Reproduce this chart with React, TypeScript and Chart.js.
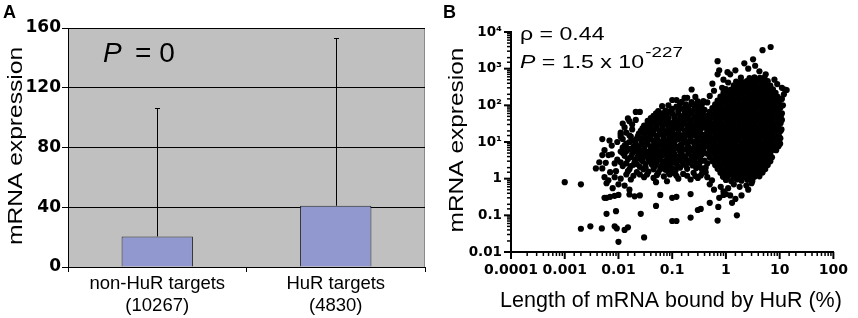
import React, { useEffect, useRef } from "react";
import { Chart, registerables } from "chart.js";
Chart.register(...registerables);

// ---------- Panel A data ----------
const barCategories: string[][] = [["non-HuR targets", "(10267)"], ["HuR targets", "(4830)"]];
const barMeans: number[] = [20.5, 41];
const barErrorTops: number[] = [106.5, 153];
const barYTicks: number[] = [0, 40, 80, 120, 160];

// ---------- Panel B axis labels ----------
const xDecades: number[] = [-4, -3, -2, -1, 0, 1, 2];
const xDecadeLabels: string[] = ["0.0001", "0.001", "0.01", "0.1", "1", "10", "100"];
const yDecades: number[] = [-2, -1, 0, 1, 2, 3, 4];
const yDecadeLabels: string[] = ["0.01", "0.1", "1", "10¹", "10²", "10³", "10⁴"];

// ---------- Panel B scatter data: [length bound (%), mRNA expression] ----------
const coreCloud: [number, number][] = [
  [1.0,0.92],[1.25,0.86],[1.6,0.95],[1.95,0.88],[2.5,0.93],[3.1,0.87],
  [0.88,1.12],[1.1,1.18],[1.4,1.13],[1.75,1.17],[2.2,1.12],[2.75,1.18],[3.4,1.13],[4.2,1.16],
  [0.79,1.45],[1.0,1.42],[1.25,1.48],[1.55,1.43],[1.95,1.47],[2.45,1.44],[3.05,1.46],[3.8,1.43],[4.8,1.47],
  [0.7,1.85],[0.88,1.82],[1.1,1.88],[1.4,1.84],[1.75,1.87],[2.2,1.83],[2.75,1.86],[3.4,1.84],[4.3,1.88],[5.4,1.83],
  [0.63,2.35],[0.79,2.32],[1.0,2.38],[1.25,2.34],[1.55,2.37],[1.95,2.33],[2.45,2.36],[3.05,2.34],[3.8,2.38],[4.8,2.33],[6.0,2.36],
  [0.56,3.0],[0.7,2.95],[0.88,3.05],[1.1,2.98],[1.4,3.03],[1.75,2.96],[2.2,3.02],[2.75,2.97],[3.4,3.04],[4.3,2.98],[5.4,3.03],[6.7,2.97],
  [0.5,3.8],[0.63,3.75],[0.79,3.86],[1.0,3.78],[1.25,3.83],[1.55,3.76],[1.95,3.85],[2.45,3.77],[3.05,3.82],[3.8,3.76],[4.8,3.84],[6.0,3.79],[7.2,3.82],
  [0.45,4.8],[0.56,4.88],[0.7,4.75],[0.88,4.84],[1.1,4.77],[1.4,4.86],[1.75,4.78],[2.2,4.85],[2.75,4.76],[3.4,4.83],[4.3,4.79],[5.4,4.87],[6.7,4.77],
  [0.5,6.1],[0.63,6.0],[0.79,6.2],[1.0,6.05],[1.25,6.15],[1.55,6.02],[1.95,6.18],[2.45,6.04],[3.05,6.14],[3.8,6.06],[4.8,6.16],[6.0,6.03],[7.5,6.12],[8.6,6.0],
  [0.45,7.7],[0.56,7.8],[0.7,7.6],[0.88,7.75],[1.1,7.65],[1.4,7.82],[1.75,7.62],[2.2,7.78],[2.75,7.66],[3.4,7.8],[4.3,7.64],[5.4,7.76],[6.7,7.68],[8.4,7.8],[9.5,7.6],
  [0.4,9.8],[0.5,9.6],[0.63,10],[0.79,9.75],[1.0,9.9],[1.25,9.65],[1.55,9.95],[1.95,9.7],[2.45,9.85],[3.05,9.6],[3.8,9.9],[4.8,9.7],[6.0,9.95],[7.5,9.65],[9.6,9.8],
  [0.45,12.5],[0.56,12.3],[0.7,12.7],[0.88,12.4],[1.1,12.6],[1.4,12.35],[1.75,12.65],[2.2,12.4],[2.75,12.6],[3.4,12.3],[4.3,12.7],[5.4,12.45],[6.7,12.55],[8.4,12.35],[10.3,12.6],
  [0.4,16],[0.5,15.7],[0.63,16.3],[0.79,15.9],[1.0,16.1],[1.25,15.8],[1.55,16.2],[1.95,15.85],[2.45,16.25],[3.05,15.9],[3.8,16.1],[4.8,15.75],[6.0,16.2],[7.5,15.9],[9.4,16.1],
  [0.45,20],[0.56,20.5],[0.7,19.6],[0.88,20.3],[1.1,19.8],[1.4,20.4],[1.75,19.7],[2.2,20.2],[2.75,19.9],[3.4,20.5],[4.3,19.6],[5.4,20.3],[6.7,19.8],[8.4,20.4],[10.4,19.8],
  [0.4,25],[0.5,25.5],[0.63,24.6],[0.79,25.3],[1.0,24.8],[1.25,25.4],[1.55,24.7],[1.95,25.2],[2.45,24.9],[3.05,25.5],[3.8,24.6],[4.8,25.3],[6.0,24.8],[7.5,25.4],[9.4,24.7],
  [0.45,32],[0.56,31.3],[0.7,32.7],[0.88,31.6],[1.1,32.4],[1.4,31.4],[1.75,32.6],[2.2,31.7],[2.75,32.3],[3.4,31.5],[4.3,32.5],[5.4,31.8],[6.7,32.2],[8.4,31.4],[10.4,32.5],
  [0.4,41],[0.5,40],[0.63,42],[0.79,40.5],[1.0,41.5],[1.25,40.2],[1.55,41.8],[1.95,40.4],[2.45,41.6],[3.05,40.1],[3.8,41.9],[4.8,40.6],[6.0,41.3],[7.5,40.3],[9.4,41.7],
  [0.45,52],[0.56,53],[0.7,51],[0.88,52.5],[1.1,51.5],[1.4,53],[1.75,51.2],[2.2,52.7],[2.75,51.4],[3.4,52.8],[4.3,51.3],[5.4,52.6],[6.7,51.6],[8.4,52.9],[10.5,51.5],
  [0.5,66],[0.63,65],[0.79,67],[1.0,65.5],[1.25,66.5],[1.55,65.2],[1.95,66.8],[2.45,65.4],[3.05,66.6],[3.8,65.1],[4.8,66.9],[6.0,65.3],[7.5,66.4],[9.4,65.6],
  [0.56,84],[0.7,86],[0.88,82.5],[1.1,85],[1.4,83],[1.75,85.5],[2.2,82.8],[2.75,85.2],[3.4,83.4],[4.3,85.8],[5.4,82.6],[6.7,84.6],[8.4,83.2],[10.3,85.4],
  [0.63,106],[0.79,104],[1.0,108],[1.25,105],[1.55,107],[1.95,104.5],[2.45,107.5],[3.05,105.2],[3.8,106.8],[4.8,104.2],[6.0,107.2],[7.5,105.6],[9.4,106.4],
  [0.7,135],[0.88,132],[1.1,138],[1.4,133],[1.75,137],[2.2,132.5],[2.75,137.5],[3.4,133.5],[4.3,136.5],[5.4,132.8],[6.7,137.2],[8.4,134],[10,136],
  [0.79,172],[1.0,168],[1.25,176],[1.55,170],[1.95,174],[2.45,169],[3.05,175],[3.8,171],[4.8,173],[6.0,168.5],[7.5,175.5],[9.2,171.5],
  [0.9,218],[1.1,213],[1.4,223],[1.75,215],[2.2,221],[2.75,214],[3.4,222],[4.3,216],[5.4,220],[6.7,214.5],[8.4,219],
  [1.0,277],[1.25,270],[1.55,284],[1.95,273],[2.45,281],[3.05,272],[3.8,282],[4.8,274],[6.0,280],[7.5,271],
  [1.4,352],[1.75,344],[2.2,360],[2.75,347],[3.4,357],[4.3,345],[5.4,355],[6.7,348],
  [1.55,447],[1.95,437],[2.45,457],[3.05,441],[3.8,452],[4.8,439],[6.0,455],
  [1.9,568],[2.75,555],[3.4,580],[4.3,562],[5.2,574],
];

const coreEdge: [number, number][] = [
  [1.2,700],[1.5,900],[2.6,1000],[3.5,1200],[4.2,850],[5.5,700],[0.9,500],[1.1,420],[8,500],[9,380],
  [11,300],[0.85,300],[0.6,250],[0.5,180],[0.45,120],[11,150],[11.5,100],[12,200],[11,60],[11,40],
  [10.8,22],[9.8,14],[0.8,0.6],[1.1,0.55],[1.4,0.7],[1.8,0.6],[2.4,0.65],[3,0.75],[0.9,0.45],[1.2,0.35],
  [0.75,0.3],[2.6,0.5],[1.5,0.28],[0.6,0.5],[0.5,0.7],[0.55,0.9],[0.45,1.1],[0.42,1.5],[0.42,2.0],[0.45,2.6],
];

const midCloudRight: [number, number][] = [
  [0.13,1.0],[0.22,0.95],[0.3,1.05],
  [0.11,1.4],[0.16,1.35],[0.25,1.45],[0.36,1.4],
  [0.1,1.9],[0.14,2.0],[0.19,1.85],[0.28,1.95],[0.35,1.9],
  [0.12,2.6],[0.16,2.5],[0.22,2.7],[0.3,2.6],
  [0.1,3.5],[0.13,3.6],[0.18,3.4],[0.24,3.5],[0.33,3.6],
  [0.11,4.7],[0.15,4.6],[0.2,4.8],[0.27,4.7],[0.36,4.6],
  [0.1,6.3],[0.13,6.5],[0.17,6.2],[0.23,6.4],[0.3,6.3],
  [0.11,8.5],[0.145,8.3],[0.19,8.7],[0.26,8.5],[0.34,8.4],
  [0.1,11.5],[0.13,11.8],[0.17,11.3],[0.22,11.6],[0.29,11.5],
  [0.115,15.5],[0.15,15.2],[0.2,15.8],[0.26,15.5],[0.34,15.3],
  [0.1,21],[0.13,21.5],[0.17,20.6],[0.23,21.2],[0.3,21],
  [0.11,28],[0.145,27.5],[0.19,28.6],[0.25,28],[0.33,27.6],
  [0.12,38],[0.16,37],[0.21,39],[0.28,38],
  [0.11,51],[0.15,50],[0.2,52],[0.27,51],[0.35,50],
  [0.13,69],[0.18,67],[0.24,70],[0.31,69],
  [0.12,93],[0.2,91],[0.27,95],[0.35,92],
  [0.15,125],[0.23,122],[0.3,128],
  [0.19,160],[0.27,170],
  [0.115,1.65],[0.18,2.25],[0.26,3.05],[0.145,4.1],[0.21,5.5],[0.12,7.4],[0.16,9.8],[0.25,10],[0.14,13.3],[0.18,18],
  [0.27,18.3],[0.12,24.5],[0.22,33],[0.14,44],[0.3,44],[0.17,58],[0.1,80],[0.16,80],[0.24,108],[0.38,130],
  [0.4,75],[0.38,35],[0.38,12],[0.38,6],[0.4,3.1],
];

const midFillRight: [number, number][] = [
  [0.12,1.2],[0.19,1.2],[0.27,1.18],[0.34,1.22],
  [0.125,2.25],[0.24,2.3],[0.32,2.2],
  [0.11,3.0],[0.15,3.05],[0.2,2.95],[0.34,3.0],
  [0.12,4.0],[0.17,4.05],[0.23,3.95],[0.3,4.0],
  [0.105,5.4],[0.14,5.5],[0.26,5.4],[0.33,5.35],
  [0.15,7.3],[0.2,7.35],[0.28,7.3],[0.37,7.25],
  [0.11,9.9],[0.2,9.95],[0.3,9.9],[0.35,10.2],
  [0.11,13.4],[0.17,13.5],[0.22,13.4],[0.3,13.3],
  [0.1,18],[0.13,18.2],[0.22,18],[0.33,18.1],
  [0.15,24],[0.2,24.3],[0.28,24],[0.35,24.2],
  [0.1,32.5],[0.13,33],[0.17,32],[0.28,32.6],[0.35,33],
  [0.11,44],[0.18,44.5],[0.25,43.5],[0.36,44],
  [0.13,59],[0.22,60],[0.3,59],[0.37,60],
  [0.13,80],[0.2,79],[0.26,81],[0.33,80],
  [0.14,108],[0.18,106],[0.3,108],[0.36,110],
];

const midCloudLeft: [number, number][] = [
  [0.05,0.8],[0.08,0.85],
  [0.03,1.1],[0.045,1.05],[0.07,1.15],
  [0.022,1.5],[0.036,1.55],[0.055,1.45],[0.085,1.5],
  [0.025,2.1],[0.032,2.0],[0.048,2.2],[0.062,2.1],[0.08,2.05],
  [0.02,2.9],[0.028,3.0],[0.04,2.8],[0.052,2.95],[0.07,2.9],[0.09,3.0],
  [0.023,4],[0.03,4.1],[0.038,3.9],[0.05,4],[0.065,4.2],[0.085,3.9],
  [0.021,5.5],[0.027,5.6],[0.035,5.4],[0.045,5.5],[0.058,5.7],[0.075,5.4],[0.095,5.6],
  [0.024,7.6],[0.031,7.8],[0.04,7.4],[0.052,7.6],[0.067,7.9],[0.085,7.5],
  [0.02,10.5],[0.027,10.2],[0.035,10.8],[0.046,10.5],[0.06,10.3],[0.078,10.7],[0.095,10.4],
  [0.023,14.5],[0.03,14],[0.04,15],[0.052,14.5],[0.068,14.2],[0.088,14.8],
  [0.026,20],[0.034,19.5],[0.045,20.5],[0.058,20],[0.075,19.6],[0.095,20.4],
  [0.03,28],[0.04,27],[0.052,28.5],[0.068,28],[0.088,27.5],
  [0.035,38],[0.048,37],[0.062,39],[0.08,38],
  [0.045,52],[0.058,51],[0.078,53],
  [0.025,66],[0.055,70],[0.075,72],[0.09,68],
  [0.065,95],[0.085,100],
  [0.011,2.8],[0.012,12],[0.013,25],[0.014,5.6],[0.015,1.6],[0.016,10],[0.017,3.9],[0.018,22],[0.019,1.2],[0.012,32],
  [0.015,44],[0.018,30],[0.016,15],[0.013,8],[0.011,14],[0.017,2.2],[0.014,2.6],[0.019,5.5],[0.012,5],[0.015,6.5],
  [0.034,1.3],[0.06,1.8],[0.042,2.4],[0.076,2.5],[0.026,3.4],[0.058,3.4],[0.033,4.7],[0.072,4.7],[0.04,6.4],[0.065,6.5],
  [0.028,8.9],[0.058,8.9],[0.08,9],[0.033,12.3],[0.07,12.5],[0.024,17],[0.045,17],[0.082,17.4],[0.038,23.5],[0.065,24],
  [0.05,32.5],[0.095,33],[0.07,45],[0.1,60],
];

const midFillLeft: [number, number][] = [
  [0.025,1.3],[0.052,1.25],[0.09,1.3],
  [0.029,1.8],[0.045,1.8],[0.075,1.75],[0.095,1.8],
  [0.022,2.5],[0.032,2.5],[0.05,2.55],[0.065,2.45],[0.095,2.5],
  [0.021,3.4],[0.036,3.4],[0.045,3.45],[0.08,3.4],
  [0.025,4.7],[0.04,4.75],[0.05,4.7],[0.062,4.8],[0.088,4.65],
  [0.023,6.5],[0.03,6.5],[0.048,6.55],[0.08,6.5],[0.095,6.6],
  [0.021,8.9],[0.035,9],[0.046,8.8],[0.068,9.1],[0.092,8.9],
  [0.022,12.3],[0.028,12.4],[0.04,12.2],[0.052,12.5],[0.09,12.3],
  [0.03,17],[0.037,17.2],[0.06,17],[0.07,17.3],
  [0.028,23.5],[0.032,24],[0.05,23.5],[0.085,23.8],
  [0.035,32.5],[0.042,33],[0.062,32.8],[0.08,32.5],
  [0.04,45],[0.05,44.5],[0.06,45.5],[0.085,45],
  [0.05,60],[0.065,60],[0.08,61],
];

const sparseLeft: [number, number][] = [
  [0.005,12],[0.0068,11],[0.0075,8],[0.0055,6],[0.0065,4.4],[0.0075,4.6],[0.005,4.4],[0.0058,2.7],[0.0085,2.6],[0.0095,3.3],
  [0.011,5.5],[0.012,7],[0.014,9],[0.016,6.5],[0.013,4.2],[0.015,3.4],[0.018,4.8],[0.012,2.2],[0.016,1.8],[0.009,1.6],
  [0.007,1.5],[0.005,1.9],[0.0055,1.1],[0.0065,0.9],[0.0085,1.1],[0.011,1.0],[0.014,1.3],[0.017,0.95],[0.019,2.4],[0.0044,2.8],
  [0.006,0.75],[0.0078,0.55],[0.01,0.7],[0.013,0.65],[0.016,0.5],[0.018,11],[0.011,16],[0.014,18],[0.017,14],[0.019,7.5],[0.0095,10],
];

const outliers: [number, number][] = [
  [0.001,0.8],[0.002,0.7],[0.002,0.043],[0.003,0.05],[0.0049,0.044],[0.0085,0.05],[0.0093,0.044],[0.01,0.019],[0.013,0.04],[0.015,0.047],
  [0.03,0.025],[0.006,0.11],[0.009,0.13],[0.026,0.11],[0.05,0.18],[0.1,0.07],[0.12,0.07],[0.22,0.087],[0.3,0.14],[0.34,0.15],
  [0.5,0.22],[0.7,0.072],[0.72,0.17],[1.3,0.22],[1.6,0.1],[1.95,0.35],[1.0,0.38],[0.9,0.36],[0.22,0.38],[0.1,0.3],
  [0.12,0.32],[0.06,0.36],[0.02,0.33],[0.016,0.37],[0.025,0.35],[0.006,0.3],[0.0055,0.3],[0.007,0.32],[0.0085,0.34],[0.01,0.36],
  [10.2,9],[13.5,260],[12.5,270],[4.8,3200],[6.8,3900],[0.7,1600],[2.2,1400],[3.2,1800],[1.07,800],[0.7,700],
  [0.75,900],[0.56,390],[0.23,270],[0.1,140],[0.12,140],[0.17,160],[0.021,66],[0.021,40],[0.016,37],[0.011,18],[0.0038,1.9],
];

const scatterPoints: [number, number][] = [
  ...coreCloud, ...coreEdge, ...midCloudRight, ...midFillRight, ...midCloudLeft, ...midFillLeft, ...sparseLeft, ...outliers,
];

const SANS = "'Liberation Sans', Arial, sans-serif";
const DEJAVU = "'DejaVu Sans', sans-serif";

function decadeLabel(v: number, decades: number[], labels: string[]): string {
  const e = Math.log10(v);
  const r = Math.round(e);
  if (Math.abs(e - r) > 1e-6) return "";
  const i = decades.indexOf(r);
  return i >= 0 ? labels[i] : "";
}

function isDecade(v: number): boolean {
  const e = Math.log10(v);
  return Math.abs(e - Math.round(e)) < 1e-6;
}

const panelAPlugin = {
  id: "panelA",
  beforeDraw(chart: any) {
    const { ctx, chartArea: a } = chart;
    ctx.save();
    ctx.fillStyle = "#c0c0c0";
    ctx.fillRect(a.left, a.top, a.right - a.left, a.bottom - a.top);
    ctx.strokeStyle = "#8a8a8a";
    ctx.lineWidth = 1;
    ctx.beginPath();
    ctx.moveTo(a.right - 0.5, a.top);
    ctx.lineTo(a.right - 0.5, a.bottom);
    ctx.stroke();
    ctx.restore();
  },
  afterDatasetsDraw(chart: any) {
    const { ctx } = chart;
    const meta = chart.getDatasetMeta(0);
    const ys = chart.scales.y;
    ctx.save();
    ctx.strokeStyle = "#000";
    ctx.lineWidth = 1;
    meta.data.forEach((bar: any, i: number) => {
      const x = Math.round(bar.x) + 0.5;
      const yTop = Math.round(ys.getPixelForValue(barErrorTops[i])) + 0.5;
      ctx.beginPath();
      ctx.moveTo(x, bar.y);
      ctx.lineTo(x, yTop);
      ctx.moveTo(x - 2.5, yTop);
      ctx.lineTo(x + 2.5, yTop);
      ctx.stroke();
    });
    ctx.restore();
  },
  afterDraw(chart: any) {
    const { ctx } = chart;
    ctx.save();
    ctx.fillStyle = "#000";
    ctx.textBaseline = "alphabetic";
    ctx.textAlign = "left";
    ctx.font = `bold 18px ${SANS}`;
    ctx.fillText("A", 3, 18);
    ctx.font = `italic 28px ${SANS}`;
    ctx.fillText("P", 103, 62);
    ctx.font = `28px ${SANS}`;
    ctx.fillText("= 0", 135, 62);
    ctx.translate(22, 146);
    ctx.rotate(-Math.PI / 2);
    ctx.scale(1.23, 1);
    ctx.textAlign = "center";
    ctx.font = `20px ${SANS}`;
    ctx.fillText("mRNA expression", 0, 0);
    ctx.restore();
  },
};

const panelBPlugin = {
  id: "panelB",
  afterDraw(chart: any) {
    const { ctx, chartArea: a } = chart;
    const xs = chart.scales.x;
    const ys = chart.scales.y;
    ctx.save();
    ctx.strokeStyle = "#000";
    xs.ticks.forEach((t: any) => {
      const p = xs.getPixelForValue(t.value);
      const major = isDecade(t.value);
      ctx.lineWidth = major ? 2 : 1.5;
      ctx.beginPath();
      ctx.moveTo(p, a.bottom);
      ctx.lineTo(p, a.bottom + (major ? 7 : 4));
      ctx.stroke();
    });
    ys.ticks.forEach((t: any) => {
      const p = ys.getPixelForValue(t.value);
      const major = isDecade(t.value);
      ctx.lineWidth = major ? 2 : 1.5;
      ctx.beginPath();
      ctx.moveTo(a.left, p);
      ctx.lineTo(a.left - (major ? 7 : 4), p);
      ctx.stroke();
    });
    ctx.fillStyle = "#000";
    ctx.textBaseline = "alphabetic";
    ctx.textAlign = "left";
    ctx.font = `bold 18px ${SANS}`;
    ctx.fillText("B", 13, 18);

    // annotations
    ctx.save();
    ctx.translate(90, 40);
    ctx.scale(1.25, 1);
    ctx.font = `18.5px ${SANS}`;
    ctx.fillText("ρ = 0.44", 0, 0);
    ctx.restore();

    ctx.save();
    ctx.translate(90, 68);
    ctx.scale(1.25, 1);
    ctx.font = `italic 18.5px ${SANS}`;
    ctx.fillText("P", 0, 0);
    const w1 = ctx.measureText("P").width;
    ctx.font = `18.5px ${SANS}`;
    const mainText = " = 1.5 x 10";
    ctx.fillText(mainText, w1, 0);
    const w2 = ctx.measureText(mainText).width;
    ctx.font = `15px ${SANS}`;
    ctx.fillText("-227", w1 + w2 + 1, -11);
    ctx.restore();

    // x title
    ctx.textAlign = "center";
    ctx.font = `21.5px ${SANS}`;
    ctx.fillText("Length of mRNA bound by HuR (%)", 241, 307);

    // y title
    ctx.translate(33, 140);
    ctx.rotate(-Math.PI / 2);
    ctx.scale(1.165, 1);
    ctx.font = `21px ${SANS}`;
    ctx.fillText("mRNA expresion", 0, 0);
    ctx.restore();
  },
};

export default function App() {
  const refA = useRef<HTMLCanvasElement>(null);
  const refB = useRef<HTMLCanvasElement>(null);

  useEffect(() => {
    const chartA = new Chart(refA.current as HTMLCanvasElement, {
      type: "bar",
      data: {
        labels: barCategories as any,
        datasets: [
          {
            data: barMeans,
            backgroundColor: "#9098cf",
            borderColor: "#2a2a2a",
            borderWidth: 1,
            barPercentage: 0.4,
            categoryPercentage: 1,
          },
        ],
      },
      options: {
        responsive: false,
        animation: false,
        events: [],
        layout: { padding: { top: 28, right: 5, left: 0, bottom: 0 } },
        plugins: { legend: { display: false }, tooltip: { enabled: false } },
        scales: {
          x: {
            grid: { display: true, drawOnChartArea: false, drawTicks: true, tickLength: 5, color: "#000", offset: true },
            border: { display: true, color: "#000", width: 1 },
            ticks: {
              color: "#000",
              font: { family: SANS, size: 18.5, lineHeight: 1.19 },
              padding: 1,
              maxRotation: 0,
              minRotation: 0,
              autoSkip: false,
            },
            afterFit: (s: any) => {
              s.height = 51;
            },
          },
          y: {
            min: 0,
            max: 160,
            afterBuildTicks: (s: any) => {
              s.ticks = barYTicks.map((v) => ({ value: v }));
            },
            ticks: {
              color: "#000",
              font: { family: DEJAVU, weight: "bold", size: 17 },
              padding: 1,
            },
            grid: { color: "#000", lineWidth: 1, tickLength: 6, drawTicks: true },
            border: { display: true, color: "#000", width: 1 },
            afterFit: (s: any) => {
              s.width = 68;
            },
          },
        },
      } as any,
      plugins: [panelAPlugin],
    });

    const chartB = new Chart(refB.current as HTMLCanvasElement, {
      type: "scatter",
      data: {
        datasets: [
          {
            data: scatterPoints.map(([x, y]) => ({ x, y })),
            backgroundColor: "#000",
            borderWidth: 0,
            pointRadius: 3.1,
            pointHoverRadius: 3.1,
          },
        ],
      },
      options: {
        responsive: false,
        animation: false,
        events: [],
        layout: { padding: { top: 32, right: 15, left: 0, bottom: 0 } },
        plugins: { legend: { display: false }, tooltip: { enabled: false } },
        scales: {
          x: {
            type: "logarithmic",
            min: 0.0001,
            max: 100,
            grid: { display: false, drawTicks: false },
            border: { display: true, color: "#000", width: 2 },
            ticks: {
              autoSkip: false,
              maxRotation: 0,
              minRotation: 0,
              padding: 10,
              color: "#000",
              font: { family: DEJAVU, weight: "bold", size: 14 },
              callback: (v: any) => decadeLabel(Number(v), xDecades, xDecadeLabels),
            },
            afterFit: (s: any) => {
              s.height = 66;
            },
          },
          y: {
            type: "logarithmic",
            min: 0.01,
            max: 10000,
            grid: { display: false, drawTicks: false },
            border: { display: true, color: "#000", width: 2 },
            ticks: {
              autoSkip: false,
              padding: 9,
              color: "#000",
              font: { family: DEJAVU, weight: "bold", size: 13.5 },
              callback: (v: any) => decadeLabel(Number(v), yDecades, yDecadeLabels),
            },
            afterFit: (s: any) => {
              s.width = 81;
            },
          },
        },
      } as any,
      plugins: [panelBPlugin],
    });

    return () => {
      chartA.destroy();
      chartB.destroy();
    };
  }, []);

  return (
    <div style={{ position: "fixed", left: 0, top: 0, width: 858, height: 318, background: "#fff", overflow: "hidden" }}>
      <canvas ref={refA} width={430} height={318} style={{ position: "absolute", left: 0, top: 0, width: 430, height: 318 }} />
      <canvas ref={refB} width={428} height={318} style={{ position: "absolute", left: 430, top: 0, width: 428, height: 318 }} />
    </div>
  );
}
